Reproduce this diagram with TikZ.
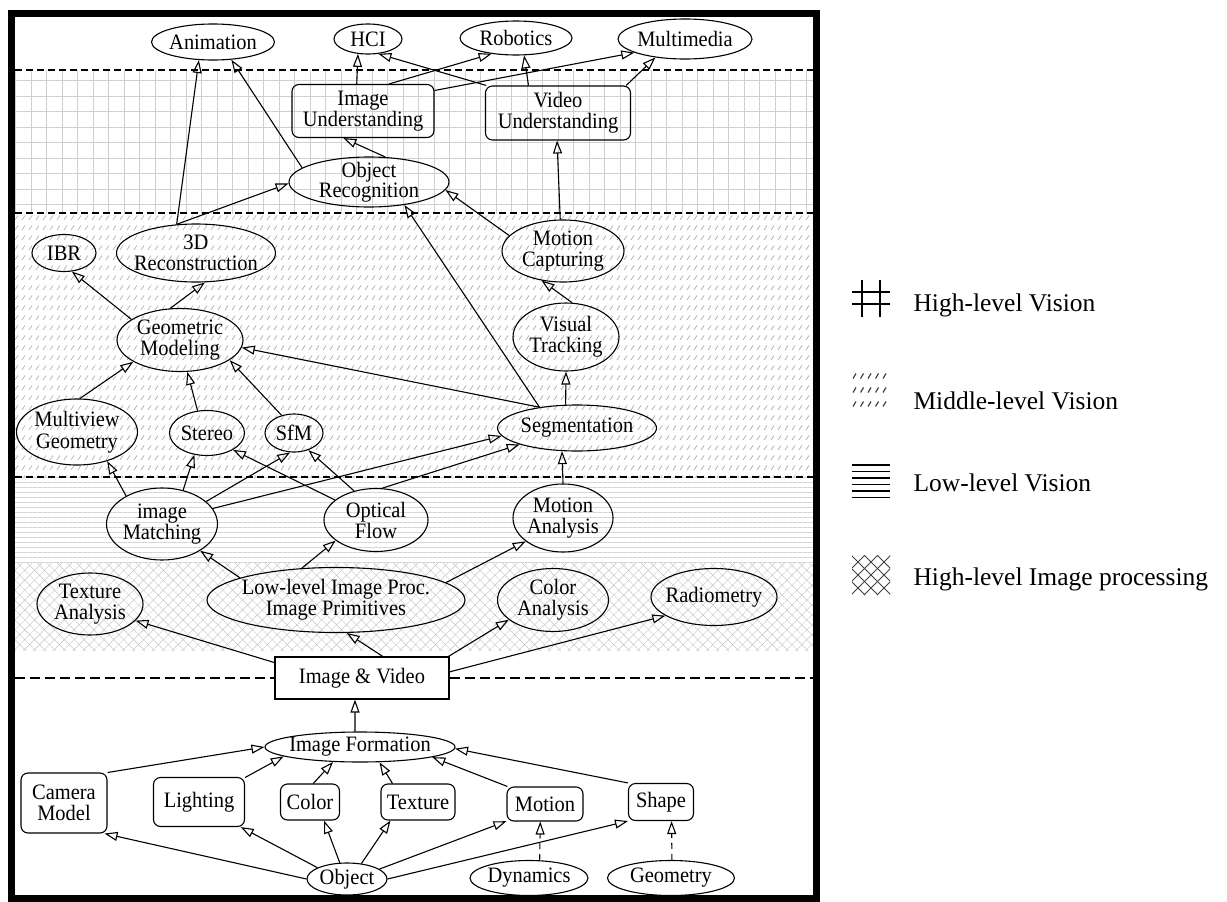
\documentclass[tikz,border=0pt]{standalone}
\usepackage{fontspec}
\setmainfont{Liberation Serif}
\newfontfamily\nodefam[FakeStretch=0.93]{Liberation Serif}
\usetikzlibrary{arrows.meta,patterns,patterns.meta,shapes.geometric}

% short diagonal strokes in rows, used for the middle-level band
\pgfdeclarepatternformonly{midstrokes}{\pgfqpoint{-1pt}{-1pt}}{\pgfqpoint{8pt}{11pt}}{\pgfqpoint{7pt}{10pt}}{%
  \pgfsetlinewidth{0.7pt}%
  \pgfpathmoveto{\pgfqpoint{1pt}{2pt}}\pgfpathlineto{\pgfqpoint{4pt}{6.5pt}}%
  \pgfusepath{stroke}}

\newcommand\nodefont{\nodefam\fontsize{22}{21}\selectfont}
\newcommand\legfont{\fontsize{25.5}{28}\selectfont}

\tikzset{
  ell/.style={ellipse, draw, line width=1.1pt, inner xsep=-30pt, inner ysep=-14pt,
    align=center, font=\nodefont},
  rbox/.style={rectangle, rounded corners=7pt, draw, line width=1.1pt, inner sep=0pt,
    align=center, font=\nodefont},
  conn/.style={line width=1.1pt, -{Triangle[open, length=13pt, width=9pt]}},
  dconn/.style={conn, dash pattern=on 6pt off 5pt},
  sep/.style={line width=1.2pt, dash pattern=on 7pt off 4pt},
}

\begin{document}
\begin{tikzpicture}[x=1pt, y=-1pt]
\useasboundingbox (0,0) rectangle (1227,902);

% ---- level bands ----
\path[pattern={Hatch[angle=0,distance=15.5pt,line width=0.5pt]}, pattern color=gray!38]
  (15,70) rectangle (813,213);
\path[pattern=midstrokes, pattern color=gray!60] (15,213) rectangle (813,477);
\path[pattern={Lines[angle=0,distance=5pt,line width=0.4pt]}, pattern color=gray!33]
  (15,477) rectangle (813,563);
\path[pattern={Hatch[angle=45,distance=7pt,line width=0.45pt]}, pattern color=gray!45]
  (15,563) rectangle (813,650);

\draw[sep] (15,70) -- (813,70);
\draw[sep] (15,213) -- (813,213);
\draw[sep] (15,477) -- (813,477);
\draw[line width=2pt, dash pattern=on 10pt off 5pt] (15,678) -- (813,678);

% ---- frame ----
\draw[line width=7pt] (11,13) rectangle (816,898.5);

% ---- applications ----
\node[ell, minimum width=123pt, minimum height=36pt] (ani) at (213,42) {Animation};
\node[ell, minimum width=68pt, minimum height=30pt] (hci) at (368,39) {HCI};
\node[ell, minimum width=112pt, minimum height=34pt] (rob) at (516,38) {Robotics};
\node[ell, minimum width=134pt, minimum height=40pt] (mm) at (685,39) {Multimedia};

% ---- high-level vision ----
\node[rbox, minimum width=142pt, minimum height=53pt] (iu) at (363,111) {Image\\Understanding};
\node[rbox, minimum width=145pt, minimum height=54pt] (vu) at (558,113) {Video\\Understanding};
\node[ell, minimum width=160pt, minimum height=50pt, font=\nodefam\fontsize{22}{19}\selectfont]
  (objrec) at (369,182) {Object\\Recognition};

% ---- middle-level vision ----
\node[ell, minimum width=64pt, minimum height=37pt] (ibr) at (64,253) {IBR};
\node[ell, minimum width=159pt, minimum height=58pt] (rec) at (196,253) {3D\\Reconstruction};
\node[ell, minimum width=122pt, minimum height=62pt] (mc) at (563,251) {Motion\\Capturing};
\node[ell, minimum width=126pt, minimum height=63pt] (gm) at (180,340) {Geometric\\Modeling};
\node[ell, minimum width=106pt, minimum height=68pt] (vt) at (566,337) {Visual\\Tracking};
\node[ell, minimum width=121pt, minimum height=66pt, font=\nodefam\fontsize{22}{22}\selectfont]
  (mvg) at (77,432) {Multiview\\Geometry};
\node[ell, minimum width=75pt, minimum height=45pt] (ste) at (207,433) {Stereo};
\node[ell, minimum width=58pt, minimum height=38pt] (sfm) at (294,433) {SfM};
\node[ell, minimum width=159pt, minimum height=46pt] (seg) at (577,428) {Segmentation};

% ---- low-level vision ----
\node[ell, minimum width=111pt, minimum height=72pt] (im) at (162,524) {image\\Matching};
\node[ell, minimum width=104pt, minimum height=63pt] (of) at (376,520) {Optical\\Flow};
\node[ell, minimum width=100pt, minimum height=68pt] (ma) at (563,518) {Motion\\Analysis};

% ---- image processing ----
\node[ell, minimum width=106pt, minimum height=62pt] (ta) at (90,604) {Texture\\Analysis};
\node[ell, minimum width=258pt, minimum height=65pt] (llp) at (336,600)
  {Low-level Image Proc.\\Image Primitives};
\node[ell, minimum width=111pt, minimum height=63pt] (ca) at (553,600) {Color\\Analysis};
\node[ell, minimum width=126pt, minimum height=57pt] (rad) at (714,597) {Radiometry};

% ---- image formation ----
\node[rectangle, draw, fill=white, line width=1.1pt, inner sep=0pt, font=\nodefont,
  minimum width=174pt, minimum height=42pt] (iv) at (362,678) {Image \& Video};
\node[ell, minimum width=190pt, minimum height=30pt] (ifo) at (360,747) {Image Formation};
\node[rbox, minimum width=86pt, minimum height=60pt] (cam) at (64,803) {Camera\\Model};
\node[rbox, minimum width=91pt, minimum height=49pt] (lig) at (199,802) {Lighting};
\node[rbox, minimum width=59pt, minimum height=36pt] (col) at (310,802) {Color};
\node[rbox, minimum width=74pt, minimum height=36pt] (tex) at (418,802) {Texture};
\node[rbox, minimum width=76pt, minimum height=34pt] (mot) at (545,804) {Motion};
\node[rbox, minimum width=65pt, minimum height=37pt] (sha) at (661,802) {Shape};
\node[ell, minimum width=80pt, minimum height=32pt] (obj) at (347,879) {Object};
\node[ell, minimum width=118pt, minimum height=35pt] (dyn) at (529,878) {Dynamics};
\node[ell, minimum width=127pt, minimum height=35pt] (geo) at (671,878) {Geometry};

% ---- connectors ----
\draw[conn] (iu.103) -- (hci.236);
\draw[conn] (iu.46) -- (rob.213);
\draw[conn] (iu.16) -- (mm.195);
\draw[conn] (vu.159) -- (hci.305);
\draw[conn] (vu.137) -- (rob.295);
\draw[conn] (vu.22) -- (mm.212);
\draw[conn] (objrec.57) -- (iu.234);
\draw[conn] (objrec.168) -- (ani.316);
\draw[conn] (rec.124) -- (ani.232);
\draw[conn] (rec.124) -- (objrec.181);
\draw[conn] (mc.95) -- (vu.268);
\draw[conn] (mc.164) -- (objrec.354);
\draw[conn] (seg.151) -- (objrec.327);
\draw[conn] (seg.151) -- (gm.353);
\draw[conn] (seg.116) -- (vt.270);
\draw[conn] (vt.80) -- (mc.234);
\draw[conn] (gm.157) -- (ibr.293);
\draw[conn] (gm.107) -- (rec.287);
\draw[conn] (mvg.85) -- (gm.205);
\draw[conn] (ste.113) -- (gm.283);
\draw[conn] (sfm.125) -- (gm.338);
\draw[conn] (im.142) -- (mvg.316);
\draw[conn] (im.58) -- (ste.240);
\draw[conn] (im.27) -- (sfm.259);
\draw[conn] (im.17) -- (seg.186);
\draw[conn] (of.154) -- (ste.327);
\draw[conn] (of.127) -- (sfm.310);
\draw[conn] (of.79) -- (seg.196);
\draw[conn] (ma.90) -- (seg.237);
\draw[conn] (llp.167) -- (im.325);
\draw[conn] (llp.137) -- (of.207);
\draw[conn] (llp.9) -- (ma.212);
\draw[conn] (iv.170) -- (ta.340);
\draw[conn] (iv.46) -- (llp.288);
\draw[conn] (iv.14) -- (ca.204);
\draw[conn] (iv.4) -- (rad.201);
\draw[conn] (ifo.108) -- (iv.252);
\draw[conn] (cam.35) -- (ifo.180);
\draw[conn] (lig.28) -- (ifo.187);
\draw[conn] (col.80) -- (ifo.209);
\draw[conn] (tex.144) -- (ifo.322);
\draw[conn] (mot.155) -- (ifo.352);
\draw[conn] (sha.150) -- (ifo.359);
\draw[conn] (obj.180) -- (cam.323);
\draw[conn] (obj.159) -- (lig.329);
\draw[conn] (obj.114) -- (col.307);
\draw[conn] (obj.47) -- (tex.214);
\draw[conn] (obj.17) -- (mot.204);
\draw[conn] (obj.0) -- (sha.210);
\draw[dconn] (dyn.59) -- (mot.255);
\draw[dconn] (geo.87) -- (sha.299);

% ---- legend ----
\draw[line width=1.6pt] (862,280) -- (862,317) (880,280) -- (880,317)
  (852,292) -- (890,292) (852,304) -- (890,304);
\foreach \yy in {376,390,404}
  \foreach \xx in {853,860.5,...,888}
    \draw[line width=1.2pt, black!75] (\xx,\yy+2.5) -- (\xx+3,\yy-2.5);
\foreach \yy in {465,471.5,478,484.5,491,497.5}
  \draw[line width=1.4pt] (852,\yy) -- (890,\yy);
\begin{scope}
  \clip (852,555) rectangle (890,595);
  \foreach \k in {-40,-27,...,80}
    \draw[line width=1pt, black!75] (852+\k,595) -- (892+\k,555)
      (852+\k,555) -- (892+\k,595);
\end{scope}
\node[anchor=base west, font=\legfont] (l1) at (910,311.5) {High-level Vision};
\node[anchor=base west, font=\legfont] (l2) at (910,409) {Middle-level Vision};
\node[anchor=base west, font=\legfont] (l3) at (910,491.5) {Low-level Vision};
\node[anchor=base west, font=\legfont] (l4) at (910,585) {High-level Image processing};
\end{tikzpicture}
\end{document}
